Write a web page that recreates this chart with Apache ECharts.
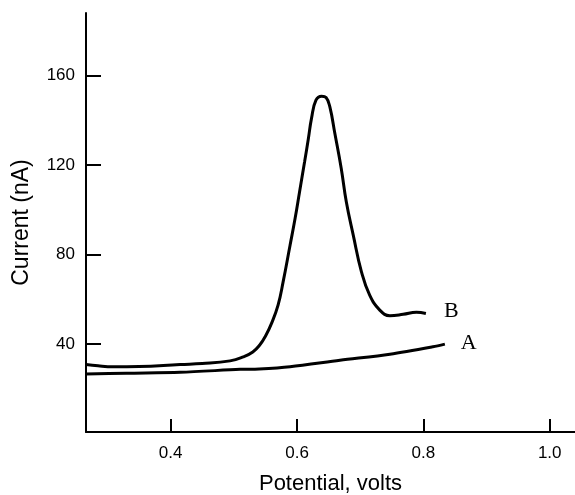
<!DOCTYPE html>
<html>
<head>
<meta charset="utf-8">
<script src="https://cdn.jsdelivr.net/npm/echarts@6/dist/echarts.min.js"></script>
<style>
  html, body { margin: 0; padding: 0; background: #fff; }
  #chart { width: 575px; height: 495px; }
</style>
</head>
<body>
<div id="chart"></div>
<script>
// curve B (with the oxidation peak)
var potentialB = [0.266, 0.285, 0.309, 0.35, 0.415, 0.45, 0.494, 0.515, 0.53, 0.541, 0.55, 0.56, 0.57, 0.578, 0.589, 0.597, 0.604, 0.612, 0.618, 0.623, 0.63, 0.639, 0.646, 0.652, 0.66, 0.67, 0.678, 0.689, 0.702, 0.715, 0.731, 0.747, 0.768, 0.789, 0.804];
var currentB   = [30.9, 30.3, 29.9, 30.0, 30.9, 31.3, 32.5, 34.3, 36.5, 39.6, 43.5, 49.5, 57.4, 67.8, 84.2, 96.2, 108, 121.5, 131.9, 141, 149, 150.8, 150.2, 146, 134, 118.5, 103.6, 88.7, 72.3, 61.9, 55.2, 52.7, 53.3, 54.2, 53.7];
// curve A (baseline)
var potentialA = [0.266, 0.33, 0.415, 0.51, 0.54, 0.589, 0.668, 0.747, 0.815, 0.834];
var currentA   = [26.6, 27.0, 27.4, 28.7, 28.9, 29.9, 32.8, 35.5, 38.8, 40];

var xTicks = [0.4, 0.6, 0.8, 1.0];
var yTicks = [40, 80, 120, 160];

function pairs(xs, ys) {
  var out = [];
  for (var i = 0; i < xs.length; i++) out.push([xs[i], ys[i]]);
  return out;
}

var chart = echarts.init(document.getElementById('chart'));
var axisText = { color: '#000', fontFamily: 'Liberation Sans, Arial, sans-serif' };
var option = {
  animation: false,
  grid: { left: 86, right: 0, top: 13, bottom: 63, outerBoundsMode: 'none', containLabel: false },
  xAxis: {
    type: 'value',
    min: 0.266,
    max: 1.04,
    name: 'Potential, volts',
    nameLocation: 'middle',
    nameGap: 41,
    nameTextStyle: Object.assign({ fontSize: 22 }, axisText),
    axisLine: { show: true, lineStyle: { color: '#000', width: 2 } },
    axisTick: { show: true, inside: true, length: 13, lineStyle: { color: '#000', width: 2 }, customValues: xTicks },
    axisLabel: Object.assign({ fontSize: 17, margin: 13, customValues: xTicks,
      formatter: function (v) { return v.toFixed(1); } }, axisText),
    splitLine: { show: false }
  },
  yAxis: {
    type: 'value',
    min: 0.7,
    max: 188,
    name: 'Current (nA)',
    nameLocation: 'middle',
    nameGap: 53,
    nameTextStyle: Object.assign({ fontSize: 23 }, axisText),
    axisLine: { show: true, lineStyle: { color: '#000', width: 2 } },
    axisTick: { show: true, inside: true, length: 15, lineStyle: { color: '#000', width: 2 }, customValues: yTicks },
    axisLabel: Object.assign({ fontSize: 17, margin: 11, customValues: yTicks }, axisText),
    splitLine: { show: false }
  },
  series: [
    {
      name: 'B',
      type: 'line',
      data: pairs(potentialB, currentB),
      smooth: 0.45,
      symbol: 'none',
      lineStyle: { color: '#000', width: 3 },
      endLabel: { show: true, formatter: 'B', offset: [10, -2], color: '#000',
        fontSize: 22, fontFamily: 'Liberation Serif, Times New Roman, serif' }
    },
    {
      name: 'A',
      type: 'line',
      data: pairs(potentialA, currentA),
      smooth: 0.3,
      symbol: 'none',
      lineStyle: { color: '#000', width: 3 },
      endLabel: { show: true, formatter: 'A', offset: [8, -1], color: '#000',
        fontSize: 22, fontFamily: 'Liberation Serif, Times New Roman, serif' }
    }
  ]
};
chart.setOption(option);
</script>
</body>
</html>
